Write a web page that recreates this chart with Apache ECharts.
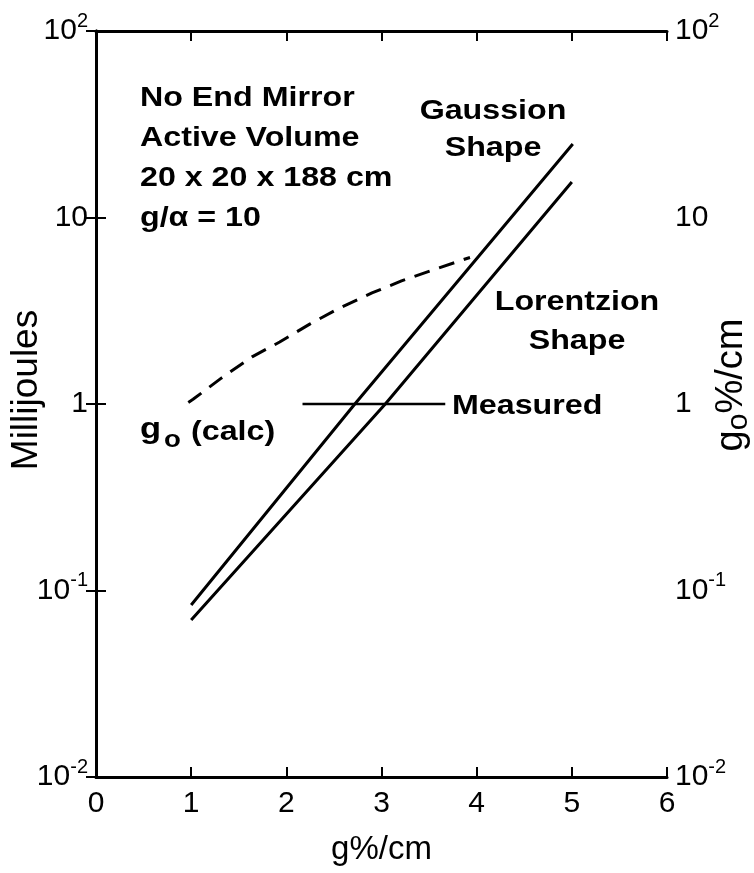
<!DOCTYPE html>
<html><head><meta charset="utf-8">
<script src="https://cdn.jsdelivr.net/npm/echarts@6/dist/echarts.min.js"></script>
<style>html,body{margin:0;padding:0;background:#fff}#c{width:754px;height:873px}</style>
</head><body><div id="c"></div>
<script>
// ---- data ----
const xTicks = [0, 1, 2, 3, 4, 5, 6];
const yDecades = [0.01, 0.1, 1, 10, 100];
const gaussianShape = [[1.0, 0.0836], [2.72, 1.0], [5.01, 24.8]];
const lorentzianShape = [[1.0, 0.0695], [3.04, 1.0], [5.0, 15.5]];
const goCalc = [[0.97, 1.02], [1.02, 1.06], [1.32, 1.38], [1.64, 1.79], [1.93, 2.15], [2.25, 2.69], [2.56, 3.27], [2.90, 3.94], [3.21, 4.57], [3.54, 5.23], [3.88, 5.99], [3.93, 6.1]];
const measuredPointer = [[2.17, 1.0], [3.67, 1.0]];
const infoLines = ['No End Mirror', 'Active Volume', '20 x 20 x 188 cm', 'g/\u03B1 = 10'];

const FF = '"Liberation Sans", Arial, Helvetica, sans-serif';
const BLACK = '#000';

function logLabel(v) {
  const e = Math.round(Math.log10(v));
  if (e === 0) return '1';
  if (e === 1) return '10';
  return '10{s|' + e + '}';
}
const labelRich = { s: { fontSize: 20, verticalAlign: 'top', lineHeight: 20, fontFamily: FF, color: BLACK } };

function yAxisCfg(pos, name, gap, size, shift) {
  return {
    type: 'log', logBase: 10, min: yDecades[0], max: yDecades[yDecades.length - 1], position: pos,
    axisLine: { show: true, lineStyle: { color: BLACK, width: 3 } },
    axisTick: { show: true, inside: true, length: 10, lineStyle: { color: BLACK, width: 2 } },
    minorTick: { show: false },
    splitLine: { show: false },
    axisLabel: { margin: 8, formatter: logLabel, fontSize: 30, color: BLACK, fontFamily: FF, lineHeight: 40, rich: labelRich },
    name: name, nameLocation: 'middle', nameGap: gap, nameRotate: 90, nameMoveOverlap: false,
    nameTextStyle: {
      fontSize: size, color: BLACK, fontFamily: FF, lineHeight: 44, padding: [0, 0, 0, shift],
      rich: { o: { fontSize: 30, verticalAlign: 'bottom', lineHeight: 30, fontFamily: FF, color: BLACK } }
    }
  };
}

function boldText(text, x, y, align, size) {
  return {
    type: 'text', x: x, y: y, scaleX: 1.15, z: 10,
    style: {
      text: text, fill: BLACK, fontSize: size || 28, fontWeight: 'bold', fontFamily: FF,
      align: align, verticalAlign: 'middle', textAlign: align, textVerticalAlign: 'middle'
    }
  };
}

const graphics = [];
infoLines.forEach((t, i) => graphics.push(boldText(t, 140, 98 + i * 40, 'left')));
graphics.push(boldText('Gaussion', 493, 111, 'center'));
graphics.push(boldText('Shape', 493, 148, 'center'));
graphics.push(boldText('Lorentzion', 577, 302, 'center'));
graphics.push(boldText('Shape', 577, 341, 'center'));
graphics.push(boldText('Measured', 452, 406, 'left'));
graphics.push(boldText('g', 140, 430, 'left', 30));
graphics.push(boldText('o', 164, 440, 'left', 24));
graphics.push(boldText('(calc)', 191, 432, 'left'));

const lineStyle = { color: BLACK, width: 3 };
const chart = echarts.init(document.getElementById('c'), null, { renderer: 'canvas' });
chart.setOption({
  backgroundColor: '#fff',
  animation: false,
  grid: { left: 96, right: 87, top: 31, bottom: 96, containLabel: false, outerBoundsMode: 'none' },
  xAxis: [
    {
      type: 'value', min: xTicks[0], max: xTicks[xTicks.length - 1], interval: 1, position: 'bottom',
      axisLine: { show: true, lineStyle: { color: BLACK, width: 3 } },
      axisTick: { show: true, inside: true, length: 10, lineStyle: { color: BLACK, width: 2 } },
      splitLine: { show: false },
      axisLabel: { margin: 12, fontSize: 30, color: BLACK, fontFamily: FF },
      name: 'g%/cm', nameLocation: 'middle', nameGap: 56, nameMoveOverlap: false,
      nameTextStyle: { fontSize: 33, color: BLACK, fontFamily: FF }
    },
    {
      type: 'value', min: xTicks[0], max: xTicks[xTicks.length - 1], interval: 1, position: 'top',
      axisLine: { show: true, lineStyle: { color: BLACK, width: 3 } },
      axisTick: { show: true, inside: true, length: 10, lineStyle: { color: BLACK, width: 2 } },
      splitLine: { show: false },
      axisLabel: { show: false }
    }
  ],
  yAxis: [yAxisCfg('left', 'Millijoules', 47, 37, 28), yAxisCfg('right', 'g{o|o}%/cm', 43, 38, 38)],
  series: [
    { name: 'Gaussion Shape', type: 'line', data: gaussianShape, xAxisIndex: 0, yAxisIndex: 0, showSymbol: false, symbol: 'none', lineStyle: lineStyle },
    { name: 'Lorentzion Shape', type: 'line', data: lorentzianShape, xAxisIndex: 0, yAxisIndex: 0, showSymbol: false, symbol: 'none', lineStyle: lineStyle },
    { name: 'go (calc)', type: 'line', data: goCalc, xAxisIndex: 0, yAxisIndex: 1, showSymbol: false, symbol: 'none', smooth: false, lineStyle: { color: BLACK, width: 3, type: [16, 10] } },
    { name: 'Measured', type: 'line', data: measuredPointer, xAxisIndex: 0, yAxisIndex: 0, showSymbol: false, symbol: 'none', lineStyle: { color: BLACK, width: 2.5 } }
  ],
  graphic: graphics
});
</script>
</body></html>
